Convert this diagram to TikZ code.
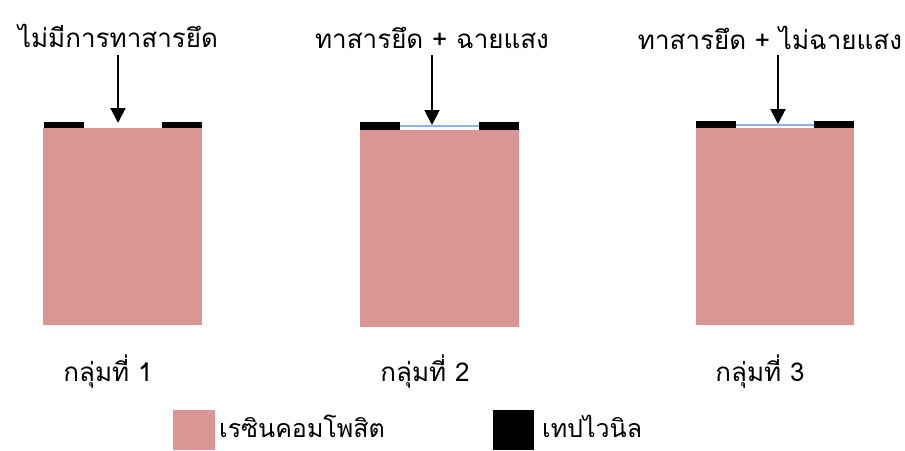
\documentclass[tikz,border=0pt]{standalone}
\usepackage{fontspec}
\newfontfamily\thai[Script=Thai]{Loma}
\usetikzlibrary{arrows.meta}
\definecolor{resin}{HTML}{D99694}
\definecolor{bond}{HTML}{8EB4E3}
\begin{document}
\begin{tikzpicture}[x=1pt,y=-1pt,
  resinbox/.style={fill=resin,draw=none},
  tape/.style={fill=black,draw=none},
  lbl/.style={font=\thai\fontsize{26}{30}\selectfont,inner sep=0pt},
  leg/.style={font=\thai\fontsize{25}{30}\selectfont,inner sep=0pt},
  arr/.style={line width=2pt,-{Triangle[width=15pt,length=15pt]}},
  bondline/.style={draw=bond,line width=2pt}]
\useasboundingbox (0,0) rectangle (905,450);
% group 1
\path[resinbox] (43,128) rectangle (202,325);
\path[tape] (44,122) rectangle (84,128);
\path[tape] (162,122) rectangle (202,128);
\node[lbl] (t1) at (118,36) {ไม่มีการทาสารยึด};
\coordinate (s1) at (118,55);
\coordinate (e1) at (118,123);
\draw[arr] (s1) -- (e1);
\node[lbl] (g1) at (108,372) {กลุ่มที่ 1};
% group 2
\path[resinbox] (360,130) rectangle (519,327);
\path[tape] (360,122) rectangle (400,130);
\path[tape] (479,122) rectangle (519,130);
\draw[bondline] (400,126) -- (479,126);
\node[lbl] (t2) at (432,38) {ทาสารยึด + ฉายแสง};
\coordinate (s2) at (432,55);
\coordinate (e2) at (432,125);
\draw[arr] (s2) -- (e2);
\node[lbl] (g2) at (425,372) {กลุ่มที่ 2};
% group 3
\path[resinbox] (696,128) rectangle (854,325);
\path[tape] (696,121) rectangle (736,128);
\path[tape] (814,121) rectangle (854,128);
\draw[bondline] (736,124.5) -- (814,124.5);
\node[lbl] (t3) at (770,38) {ทาสารยึด + ไม่ฉายแสง};
\coordinate (s3) at (778,55);
\coordinate (e3) at (778,124);
\draw[arr] (s3) -- (e3);
\node[lbl] (g3) at (760,372) {กลุ่มที่ 3};
% legend
\path[resinbox] (173,410) rectangle (215,450);
\node[leg,anchor=west] (l1) at (219,426) {เรซินคอมโพสิต};
\path[tape] (493,410) rectangle (534,450);
\node[leg,anchor=west] (l2) at (542,426) {เทปไวนิล};
\end{tikzpicture}
\end{document}
